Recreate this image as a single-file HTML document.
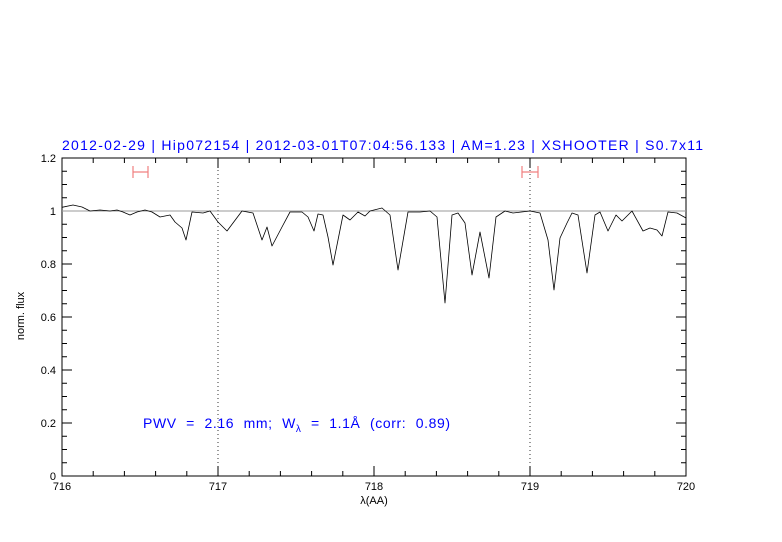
<!DOCTYPE html>
<html><head><meta charset="utf-8"><style>html,body{margin:0;padding:0;background:#fff;}svg{display:block}</style></head>
<body>
<svg width="782" height="542" xmlns="http://www.w3.org/2000/svg" font-family="Liberation Sans, sans-serif">
<rect x="62" y="158" width="624" height="318" fill="none" stroke="#000" stroke-width="1"/>
<g stroke="#000" stroke-width="1">
<path d="M62,476v-10M218,476v-10M374,476v-10M530,476v-10M686,476v-10M62,158v10M218,158v10M374,158v10M530,158v10M686,158v10"/>
<path d="M93.2,476v-5M124.4,476v-5M155.6,476v-5M186.8,476v-5M249.2,476v-5M280.4,476v-5M311.6,476v-5M342.8,476v-5M405.2,476v-5M436.4,476v-5M467.6,476v-5M498.8,476v-5M561.2,476v-5M592.4,476v-5M623.6,476v-5M654.8,476v-5"/>
<path d="M93.2,158v5M124.4,158v5M155.6,158v5M186.8,158v5M249.2,158v5M280.4,158v5M311.6,158v5M342.8,158v5M405.2,158v5M436.4,158v5M467.6,158v5M498.8,158v5M561.2,158v5M592.4,158v5M623.6,158v5M654.8,158v5"/>
<path d="M62,423h10M62,370h10M62,317h10M62,264h10M62,211h10M686,423h-10M686,370h-10M686,317h-10M686,264h-10M686,211h-10"/>
<path d="M62,462.75h5M62,449.5h5M62,436.25h5M62,409.75h5M62,396.5h5M62,383.25h5M62,356.75h5M62,343.5h5M62,330.25h5M62,303.75h5M62,290.5h5M62,277.25h5M62,250.75h5M62,237.5h5M62,224.25h5M62,197.75h5M62,184.5h5M62,171.25h5"/>
<path d="M686,462.75h-5M686,449.5h-5M686,436.25h-5M686,409.75h-5M686,396.5h-5M686,383.25h-5M686,356.75h-5M686,343.5h-5M686,330.25h-5M686,303.75h-5M686,290.5h-5M686,277.25h-5M686,250.75h-5M686,237.5h-5M686,224.25h-5M686,197.75h-5M686,184.5h-5M686,171.25h-5"/>
</g>
<path d="M218,158V476M530,158V476" stroke="#000" stroke-width="0.8" stroke-dasharray="1,3"/>
<line x1="62" y1="211" x2="686" y2="211" stroke="#999" stroke-width="1"/>
<polyline fill="none" stroke="#000" stroke-width="0.8" stroke-linejoin="round" points="62,207.3 73,205 82,207 90,211 100,210 110,211 117,210 123,212 130,215 137,212 145,210 152,212 160,217 170,215 175,222 182,228 186,240 192,212 203,213 210,211 218,222 227,231 242,211 253,213 262,240 267,227 272,246 282,227 290,212 302,212 308,217 314,231 318,214 323,215 328,237 333,265 338,240 343,215 350,220 358,212 365,216 370,211 382,208 390,215 398,270 408,212 420,212 430,211 437,217 445,303 452,215 458,213 465,223 472,275 480,232 489,278 496,217 505,211 513,213 530,211 540,213 548,240 554,290 560,238 567,223 572,213 578,215 587,273 595,215 600,212 608,231 616,215 622,221 632,211 643,231 650,228 657,230 662,236 668,212 677,213 686,218"/>
<g stroke="#f08080" stroke-width="1.2">
<path d="M133,172h15M133,166v12M148,166v12M522,172h16M522,166v12M538,166v12"/>
</g>
<g font-size="11" fill="#000" text-anchor="middle">
<text x="62" y="490">716</text><text x="218" y="490">717</text><text x="374" y="490">718</text><text x="530" y="490">719</text><text x="686" y="490">720</text>
<text x="374" y="504">λ(AA)</text>
</g>
<g font-size="11" fill="#000" text-anchor="end">
<text x="56" y="480">0</text><text x="56" y="427">0.2</text><text x="56" y="374">0.4</text><text x="56" y="321">0.6</text><text x="56" y="268">0.8</text><text x="56" y="215">1</text><text x="56" y="162">1.2</text>
</g>
<text transform="translate(24,316) rotate(-90)" font-size="11" text-anchor="middle">norm. flux</text>
<text x="62" y="150" font-size="14" fill="#0000ff" textLength="641" lengthAdjust="spacing">2012-02-29 | Hip072154 | 2012-03-01T07:04:56.133 | AM=1.23 | XSHOOTER | S0.7x11</text>
<text x="143" y="428" font-size="14" fill="#0000ff" letter-spacing="0.6" word-spacing="5" xml:space="preserve">PWV = 2.16 mm; W<tspan font-size="10" dy="4">λ</tspan><tspan dy="-4"> = 1.1Å (corr: 0.89)</tspan></text>
</svg>
</body></html>
